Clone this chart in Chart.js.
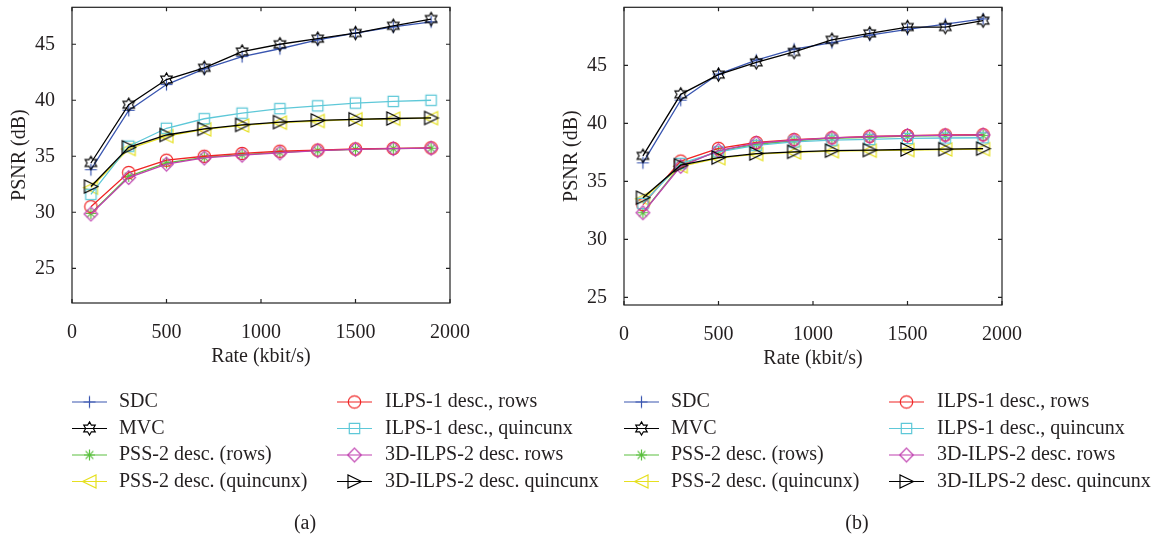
<!DOCTYPE html>
<html>
<head>
<meta charset="utf-8">
<script src="https://cdn.jsdelivr.net/npm/chart.js@4.4.1/dist/chart.umd.min.js"></script>
<style>
    body { margin: 0; background: #ffffff; }
    canvas { position: absolute; top: 0; }
</style>
</head>
<body>
<canvas id="panelA" width="600" height="539" style="left:0px"></canvas>
<canvas id="panelB" width="621" height="539" style="left:552px"></canvas>
<script>
// rate points shared by every curve
var rates = [100, 300, 500, 700, 900, 1100, 1300, 1500, 1700, 1900];
var rateTicks = [0, 500, 1000, 1500, 2000];
var psnrTicks = [25, 30, 35, 40, 45];

var seriesNames = [
    'SDC',
    'MVC',
    'PSS-2 desc. (rows)',
    'PSS-2 desc. (quincunx)',
    'ILPS-1 desc., rows',
    'ILPS-1 desc., quincunx',
    '3D-ILPS-2 desc. rows',
    '3D-ILPS-2 desc. quincunx'
];

// panel (a)
var sdcA       = [33.8, 39.1, 41.4, 42.8, 43.9, 44.6, 45.4, 46.0, 46.55, 47.0];
var mvcA       = [34.4, 39.6, 41.85, 42.9, 44.35, 45.0, 45.5, 46.0, 46.65, 47.25];
var pssRowsA   = [29.9, 33.2, 34.4, 34.9, 35.15, 35.35, 35.5, 35.62, 35.68, 35.72];
var pssQuinA   = [32.2, 35.65, 36.8, 37.4, 37.75, 38.0, 38.15, 38.3, 38.35, 38.4];
var ilps1RowsA = [30.5, 33.55, 34.65, 35.0, 35.25, 35.45, 35.55, 35.65, 35.7, 35.75];
var ilps1QuinA = [31.6, 35.9, 37.5, 38.35, 38.85, 39.25, 39.5, 39.75, 39.9, 40.0];
var ilps2RowsA = [29.85, 33.1, 34.3, 34.85, 35.1, 35.3, 35.5, 35.62, 35.68, 35.72];
var ilps2QuinA = [32.3, 35.8, 36.9, 37.45, 37.8, 38.05, 38.2, 38.3, 38.37, 38.42];

// panel (b)
var sdcB       = [36.6, 42.0, 44.25, 45.45, 46.4, 46.95, 47.6, 48.1, 48.55, 49.0];
var mvcB       = [37.2, 42.5, 44.2, 45.25, 46.15, 47.2, 47.75, 48.3, 48.3, 48.85];
var pssRowsB   = [32.3, 36.4, 37.6, 38.2, 38.5, 38.7, 38.8, 38.9, 38.95, 38.97];
var pssQuinB   = [33.5, 36.3, 37.0, 37.35, 37.5, 37.6, 37.65, 37.7, 37.75, 37.78];
var ilps1RowsB = [33.0, 36.75, 37.85, 38.35, 38.6, 38.75, 38.88, 38.95, 39.0, 39.02];
var ilps1QuinB = [33.1, 36.55, 37.55, 38.1, 38.4, 38.55, 38.62, 38.7, 38.74, 38.76];
var ilps2RowsB = [32.3, 36.3, 37.65, 38.3, 38.55, 38.75, 38.85, 38.95, 38.97, 39.0];
var ilps2QuinB = [33.6, 36.4, 37.05, 37.4, 37.55, 37.65, 37.7, 37.75, 37.78, 37.82];

var seriesStyles = [
    { color: '#3a56b0', shape: 'plus' },
    { color: '#000000', shape: 'hexagram' },
    { color: '#5cc040', shape: 'asterisk' },
    { color: '#e6e020', shape: 'triLeft' },
    { color: '#f02424', shape: 'circle' },
    { color: '#5ec8d8', shape: 'square' },
    { color: '#c040b0', shape: 'diamond' },
    { color: '#000000', shape: 'triRight' }
];

var textColor = '#231f20';
var serif = "'Liberation Serif', 'Times New Roman', serif";
var axisFont = { family: serif, size: 20, lineHeight: 1.2 };

// unfilled marker glyphs, drawn once and reused as pointStyle images
function makeMarker(shape, color) {
    var c = document.createElement('canvas');
    c.width = 17;
    c.height = 17;
    var g = c.getContext('2d');
    g.translate(8.5, 8.5);
    g.strokeStyle = color;
    g.lineWidth = 1.2;
    g.beginPath();
    var k, a;
    switch (shape) {
        case 'plus':
            g.moveTo(-6, 0); g.lineTo(6, 0);
            g.moveTo(0, -6); g.lineTo(0, 6);
            break;
        case 'hexagram':
            for (k = 0; k < 12; k++) {
                a = -Math.PI / 2 + k * Math.PI / 6;
                var rr = k % 2 ? 3.8 : 6.6;
                if (k === 0) g.moveTo(rr * Math.cos(a), rr * Math.sin(a));
                else g.lineTo(rr * Math.cos(a), rr * Math.sin(a));
            }
            g.closePath();
            break;
        case 'asterisk':
            for (k = 0; k < 4; k++) {
                a = k * Math.PI / 4;
                g.moveTo(-5.5 * Math.cos(a), -5.5 * Math.sin(a));
                g.lineTo(5.5 * Math.cos(a), 5.5 * Math.sin(a));
            }
            break;
        case 'circle':
            g.arc(0, 0, 6.2, 0, Math.PI * 2);
            break;
        case 'square':
            g.rect(-5.2, -5.2, 10.4, 10.4);
            break;
        case 'diamond':
            g.moveTo(0, -6.8); g.lineTo(6.8, 0); g.lineTo(0, 6.8); g.lineTo(-6.8, 0);
            g.closePath();
            break;
        case 'triLeft':
            g.moveTo(-7, 0); g.lineTo(6.5, -6.5); g.lineTo(6.5, 6.5);
            g.closePath();
            break;
        case 'triRight':
            g.moveTo(7, 0); g.lineTo(-6.5, -6.5); g.lineTo(-6.5, 6.5);
            g.closePath();
            break;
    }
    g.stroke();
    return c;
}

var markers = seriesStyles.map(function(s) { return makeMarker(s.shape, s.color); });

// box around the plot area with inward ticks on all four sides
var boxAxes = {
    id: 'boxAxes',
    afterDatasetsDraw: function(chart) {
        var ctx = chart.ctx;
        var area = chart.chartArea;
        var xs = chart.scales.x;
        var ys = chart.scales.y;
        var t = 4;
        ctx.save();
        ctx.strokeStyle = '#222222';
        ctx.lineWidth = 1.2;
        ctx.strokeRect(area.left, area.top, area.right - area.left, area.bottom - area.top);
        ctx.beginPath();
        rateTicks.forEach(function(v) {
            var px = xs.getPixelForValue(v);
            ctx.moveTo(px, area.bottom); ctx.lineTo(px, area.bottom - t);
            ctx.moveTo(px, area.top); ctx.lineTo(px, area.top + t);
        });
        psnrTicks.forEach(function(v) {
            var py = ys.getPixelForValue(v);
            ctx.moveTo(area.left, py); ctx.lineTo(area.left + t, py);
            ctx.moveTo(area.right, py); ctx.lineTo(area.right - t, py);
        });
        ctx.stroke();
        ctx.restore();
    }
};

// two-column legend under the axes plus the panel caption
var figureLegend = {
    id: 'figureLegend',
    afterDraw: function(chart, args, opts) {
        var ctx = chart.ctx;
        var lineX = [72, 337];
        var textX = [119, 385];
        ctx.save();
        ctx.font = '20px ' + serif;
        ctx.textBaseline = 'middle';
        ctx.fillStyle = textColor;
        chart.data.datasets.forEach(function(ds, i) {
            var col = i < 4 ? 0 : 1;
            var y = 402 + (i % 4) * 26.5;
            ctx.strokeStyle = ds.borderColor;
            ctx.lineWidth = 1.2;
            ctx.beginPath();
            ctx.moveTo(lineX[col], y);
            ctx.lineTo(lineX[col] + 35, y);
            ctx.stroke();
            var m = ds.pointStyle;
            ctx.drawImage(m, lineX[col] + 17.5 - m.width / 2, y - m.height / 2);
            ctx.textAlign = 'left';
            ctx.fillText(ds.label, textX[col], y);
        });
        ctx.textAlign = 'center';
        ctx.fillText(opts.caption, 305, 524);
        ctx.restore();
    }
};

// keep the plot box exactly where the layout padding puts it
function noEdgePadding(s) {
    s.paddingTop = 0;
    s.paddingBottom = 0;
    s.paddingLeft = 0;
    s.paddingRight = 0;
}

function makePanel(canvasId, values, yMin, yMax, top, bottom, caption) {
    var canvas = document.getElementById(canvasId);
    return new Chart(canvas, {
        type: 'line',
        data: {
            datasets: seriesNames.map(function(name, i) {
                return {
                    label: name,
                    data: rates.map(function(r, k) { return { x: r, y: values[i][k] }; }),
                    borderColor: seriesStyles[i].color,
                    backgroundColor: 'transparent',
                    borderWidth: 1.3,
                    pointStyle: markers[i],
                    pointRadius: 6,
                    pointHoverRadius: 6,
                    tension: 0,
                    fill: false,
                    order: seriesNames.length - i
                };
            })
        },
        options: {
            responsive: false,
            animation: false,
            events: [],
            layout: {
                padding: { left: 0, top: top, right: canvas.width - 450, bottom: 539 - bottom - 70 }
            },
            plugins: {
                legend: { display: false },
                tooltip: { enabled: false },
                figureLegend: { caption: caption }
            },
            scales: {
                x: {
                    type: 'linear',
                    min: 0,
                    max: 2000,
                    afterBuildTicks: function(s) { s.ticks = rateTicks.map(function(v) { return { value: v }; }); },
                    afterFit: function(s) { s.height = 70; noEdgePadding(s); },
                    grid: { display: false },
                    border: { display: false },
                    ticks: {
                        padding: 10,
                        color: textColor,
                        font: axisFont,
                        maxRotation: 0,
                        autoSkip: false,
                        callback: function(v) { return String(v); }
                    },
                    title: {
                        display: true,
                        text: 'Rate (kbit/s)',
                        color: textColor,
                        font: axisFont,
                        padding: { top: 0, bottom: 4 }
                    }
                },
                y: {
                    type: 'linear',
                    min: yMin,
                    max: yMax,
                    afterBuildTicks: function(s) { s.ticks = psnrTicks.map(function(v) { return { value: v }; }); },
                    afterFit: function(s) { s.width = 72; noEdgePadding(s); },
                    grid: { display: false },
                    border: { display: false },
                    ticks: {
                        padding: 9,
                        color: textColor,
                        font: axisFont,
                        callback: function(v) { return String(v); }
                    },
                    title: {
                        display: true,
                        text: 'PSNR (dB)',
                        color: textColor,
                        font: axisFont,
                        padding: { top: 8, bottom: 0 }
                    }
                }
            }
        },
        plugins: [boxAxes, figureLegend]
    });
}

makePanel('panelA',
    [sdcA, mvcA, pssRowsA, pssQuinA, ilps1RowsA, ilps1QuinA, ilps2RowsA, ilps2QuinA],
    21.9, 48.3, 5, 303, '(a)');
makePanel('panelB',
    [sdcB, mvcB, pssRowsB, pssQuinB, ilps1RowsB, ilps1QuinB, ilps2RowsB, ilps2QuinB],
    24.35, 50, 7, 305, '(b)');
</script>
</body>
</html>
